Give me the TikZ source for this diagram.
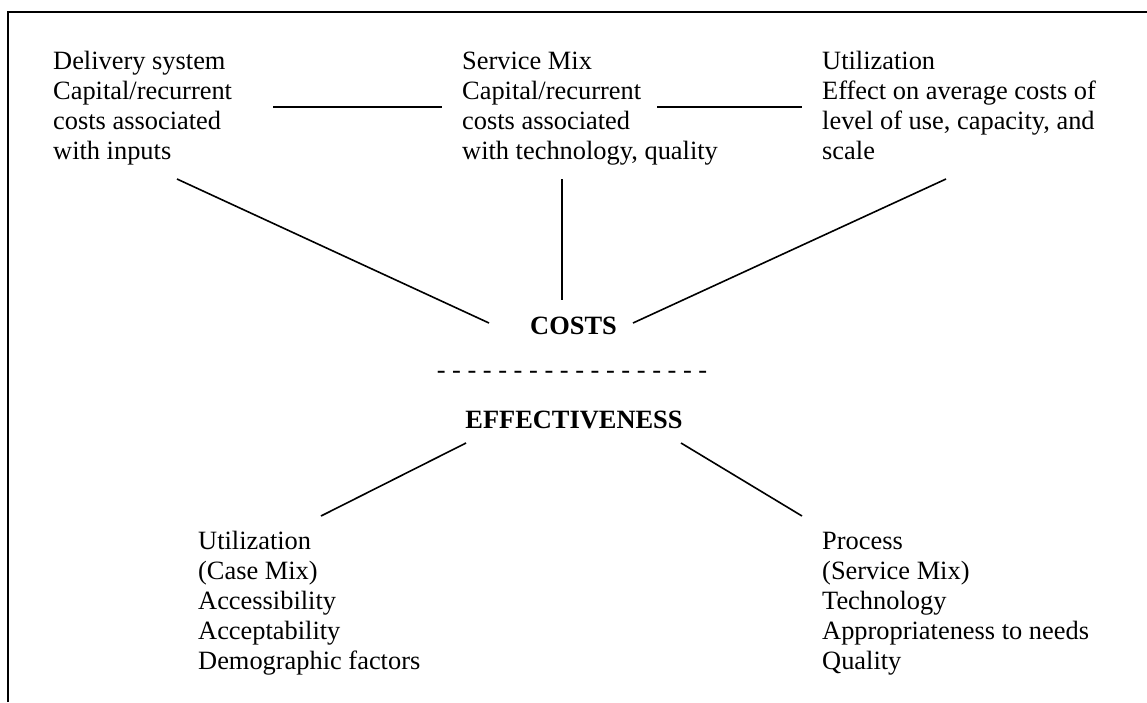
\documentclass[tikz,border=0pt]{standalone}
\usepackage{fontspec}
\setmainfont{Liberation Serif}
\begin{document}
\begin{tikzpicture}[x=1pt,y=-1pt,
  txt/.style={inner sep=0pt,align=left,anchor=base west,font=\fontsize{26.4}{30.2}\selectfont},
  head/.style={inner sep=0pt,anchor=base,font=\fontsize{26.4}{30.2}\selectfont\bfseries},
  dashtxt/.style={inner sep=0pt,anchor=base,font=\fontsize{26.4}{30.2}\selectfont},
  link/.style={line width=1.6pt},
  frame/.style={line width=1.7pt}]
\useasboundingbox (0,0) rectangle (1147,702);
\draw[frame] (8,702) -- (8,12) -- (1147,12);

% base anchor of a multi-line node lies on its last line
\node[txt] (del) at (53,159.6) {Delivery system\\Capital/recurrent\\costs associated\\with inputs};
\node[txt] (svc) at (462,159.6) {Service Mix\\Capital/recurrent\\costs associated\\with technology, quality};
\node[txt] (utl) at (822,159.6) {Utilization\\Effect on average costs of\\level of use, capacity, and\\scale};
\node[head] (costs) at (573.5,334) {COSTS};
\node[dashtxt] (sep) at (572,378) {- - - - - - - - - - - - - - - - - -};
\node[head] (eff) at (574,428) {EFFECTIVENESS};
\node[txt] (ute) at (198,669.8) {Utilization\\(Case Mix)\\Accessibility\\Acceptability\\Demographic factors};
\node[txt] (prc) at (822,669.8) {Process\\(Service Mix)\\Technology\\Appropriateness to needs\\Quality};

\coordinate (h1a) at (273,107); \coordinate (h1b) at (442,107);
\coordinate (h2a) at (657,107); \coordinate (h2b) at (802,107);
\coordinate (d1a) at (177,179); \coordinate (d1b) at (489,323);
\coordinate (v1a) at (562,179); \coordinate (v1b) at (562,300);
\coordinate (d3a) at (946,179); \coordinate (d3b) at (633,323);
\coordinate (e1a) at (466,443); \coordinate (e1b) at (321,516);
\coordinate (e2a) at (681,443); \coordinate (e2b) at (802,516);

\draw[link] (h1a) -- (h1b);
\draw[link] (h2a) -- (h2b);
\draw[link] (d1a) -- (d1b);
\draw[link] (v1a) -- (v1b);
\draw[link] (d3a) -- (d3b);
\draw[link] (e1a) -- (e1b);
\draw[link] (e2a) -- (e2b);
\end{tikzpicture}
\end{document}
